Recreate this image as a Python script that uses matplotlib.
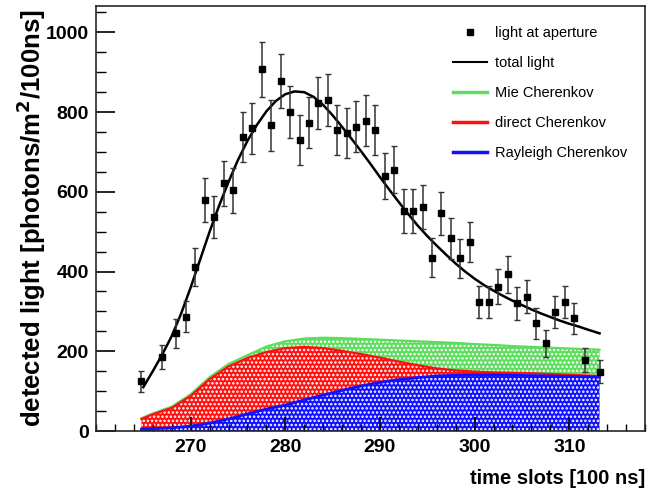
import numpy as np
import matplotlib
matplotlib.use("Agg")
import matplotlib.pyplot as plt
from matplotlib.lines import Line2D
from matplotlib.ticker import MultipleLocator, FixedLocator

plt.rcParams['font.family'] = ['Liberation Sans', 'DejaVu Sans']
plt.rcParams['hatch.linewidth'] = 1.2

# measured light at aperture (time slot, value, error)
t_data = [264.8, 267.0, 268.5, 269.5, 270.5, 271.5, 272.5, 273.5, 274.5, 275.5,
          276.5, 277.5, 278.5, 279.5, 280.5, 281.5, 282.5, 283.5, 284.5, 285.5,
          286.5, 287.5, 288.5, 289.5, 290.5, 291.5, 292.5, 293.5, 294.5, 295.5,
          296.5, 297.5, 298.5, 299.5, 300.5, 301.5, 302.5, 303.5, 304.5, 305.5,
          306.5, 307.5, 308.5, 309.5, 310.5, 311.7, 313.2]
y_data = [125, 186, 245, 287, 411, 579, 537, 621, 604, 738,
          759, 908, 767, 878, 801, 730, 773, 823, 830, 755,
          748, 763, 778, 755, 640, 656, 552, 552, 563, 435,
          546, 483, 433, 475, 324, 324, 362, 393, 320, 337,
          270, 220, 299, 324, 283, 178, 149]
y_err = [26, 31, 36, 39, 47, 55, 53, 57, 57, 62,
         63, 69, 64, 68, 65, 62, 64, 66, 66, 63,
         63, 64, 64, 63, 58, 59, 54, 54, 55, 48,
         54, 51, 48, 50, 41, 41, 44, 46, 41, 42,
         38, 34, 40, 41, 39, 31, 28]

# fitted total light
t_fit = [265.0, 266, 267, 268, 269, 270, 271, 272, 273, 274, 275, 276, 277, 278,
         279, 280, 281, 282, 283, 284, 285, 286, 287, 288, 289, 290, 291, 292,
         293, 294, 295, 296, 297, 298, 299, 300, 301, 302, 303, 304, 305, 306,
         307, 308, 309, 310, 311, 312, 313.2]
y_fit = [110, 150, 192, 238, 295, 360, 430, 500, 565, 625, 680, 728, 768, 802,
         828, 845, 852, 850, 838, 818, 792, 763, 733, 702, 670, 637, 605, 574,
         544, 515, 489, 465, 442, 420, 400, 382, 366, 352, 339, 327, 316, 305,
         295, 286, 277, 269, 262, 254, 245]

# Cherenkov components
t_ch = [264.8, 266, 268, 270, 272, 274, 276, 278, 280, 282, 284, 286, 288,
        290, 292, 294, 296, 298, 300, 302, 304, 306, 308, 310, 312, 313.2]
rayleigh = [5, 6, 8, 12, 20, 30, 43, 55, 65, 78, 90, 102, 113,
            122, 129, 134, 138, 140, 141, 141, 140, 139, 138, 137, 136, 135]
direct = [25, 36, 50, 76, 110, 132, 140, 143, 143, 133, 118, 99, 80,
          62, 45, 31, 19, 12, 8, 6, 6, 6, 5, 4, 3, 3]
mie = [2, 2, 3, 4, 5, 6, 7, 14, 17, 21, 26, 32, 38,
       45, 53, 60, 66, 69, 69, 69, 67, 66, 66, 66, 66, 66]

green = '#5ddc5d'
red = '#ff1010'
blue = '#1010ff'

fig = plt.figure(figsize=(6.52, 4.98), dpi=100)
ax = fig.add_axes([96/652, 1-431/498, (645-96)/652, (431-5.7)/498])

R = np.array(rayleigh)
D = R + np.array(direct)
M = D + np.array(mie)

ax.fill_between(t_ch, D, M, facecolor=green, edgecolor='white', hatch='....', linewidth=0, zorder=1)
ax.fill_between(t_ch, R, D, facecolor=red, edgecolor='white', hatch='....', linewidth=0, zorder=1)
ax.fill_between(t_ch, 0, R, facecolor=blue, edgecolor='white', hatch='....', linewidth=0, zorder=1)
ax.plot(t_ch, M, color=green, lw=1.6, zorder=2)
ax.plot(t_ch, D, color=red, lw=1.6, zorder=2)
ax.plot(t_ch, R, color=blue, lw=2.0, zorder=2)

ax.plot(t_fit, y_fit, color='black', lw=1.8, zorder=3)
ax.errorbar(t_data, y_data, yerr=y_err, fmt='s', color='black', ecolor='0.2',
            markersize=5, elinewidth=1.1, capsize=2.5, capthick=1.0, zorder=4)

ax.set_xlim(260, 318)
ax.set_ylim(0, 1067)
ax.xaxis.set_major_locator(FixedLocator([270, 280, 290, 300, 310]))
ax.xaxis.set_minor_locator(MultipleLocator(2))
ax.yaxis.set_major_locator(MultipleLocator(200))
ax.yaxis.set_minor_locator(MultipleLocator(50))
ax.tick_params(axis='both', which='both', direction='in', top=False, right=False)
ax.tick_params(axis='y', which='major', length=13.5, width=1.2, pad=5)
ax.tick_params(axis='y', which='minor', length=7, width=1.0)
ax.tick_params(axis='x', which='major', length=10, width=1.2, pad=6)
ax.tick_params(axis='x', which='minor', length=5, width=1.0)
for lab in ax.get_xticklabels() + ax.get_yticklabels():
    lab.set_fontsize(14)
    lab.set_fontweight('bold')
for sp in ax.spines.values():
    sp.set_linewidth(1.2)
    sp.set_color('0.15')

ax.set_ylabel('detected light [photons/m$^\\mathbf{2}$/100ns]', fontsize=18.5,
              fontweight='bold')
ax.yaxis.set_label_coords(-0.088, 0.5)
ax.set_xlabel('time slots [100 ns]', fontsize=14.5, fontweight='bold', ha='right')
ax.xaxis.set_label_coords(1.0, -0.09)

handles = [
    Line2D([], [], marker='s', color='black', linestyle='none', markersize=4),
    Line2D([], [], color='black', lw=1.5),
    Line2D([], [], color=green, lw=2.5),
    Line2D([], [], color=red, lw=2.5),
    Line2D([], [], color=blue, lw=2.5),
]
labels = ['light at aperture', 'total light', 'Mie Cherenkov',
          'direct Cherenkov', 'Rayleigh Cherenkov']
fig.legend(handles, labels, loc='upper left', bbox_to_anchor=(453/652, 1-26/498),
           frameon=False, fontsize=10.5, handlelength=2.3, handletextpad=0.6,
           labelspacing=1.1, borderpad=0, borderaxespad=0)

fig.savefig('out.png', dpi=100)
